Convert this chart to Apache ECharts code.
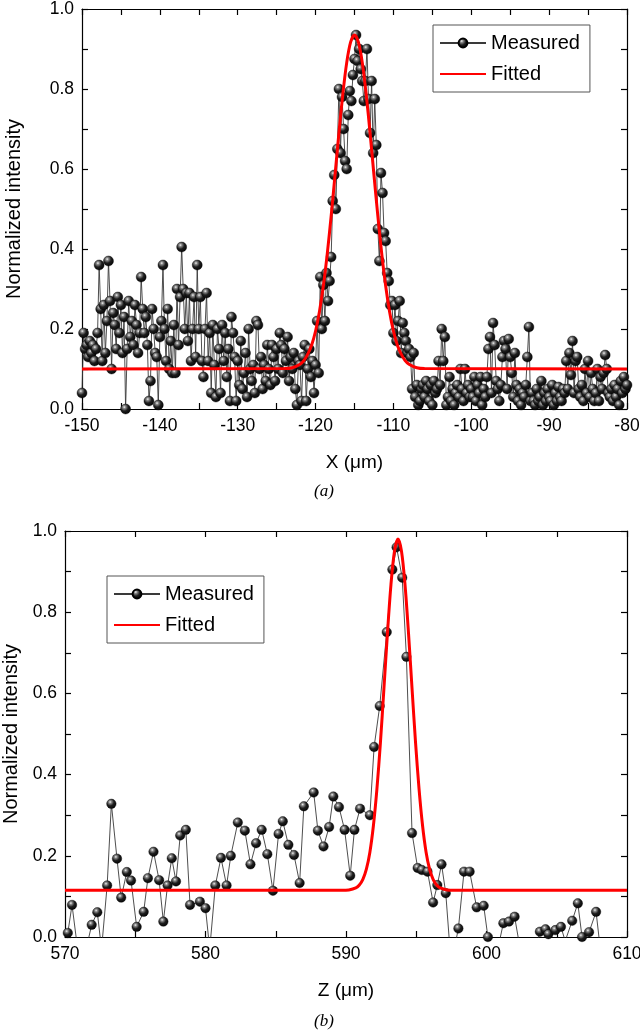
<!DOCTYPE html>
<html>
<head>
<meta charset="utf-8">
<script src="https://cdn.jsdelivr.net/npm/echarts@6/dist/echarts.min.js"></script>
<style>
html,body{margin:0;padding:0;background:#fff;}
#chart{width:640px;height:1036px;}
</style>
</head>
<body>
<div id="chart"></div>
<script>
// ---------- Panel (a) data ----------
const startA = -150;   // first sample position (µm)
const stepA = 0.2;     // sampling step (µm)
const measuredA = [
  0.04, 0.19, 0.15, 0.16, 0.13, 0.17, 0.14, 0.16, 0.12, 0.15,
  0.19, 0.36, 0.25, 0.12, 0.26, 0.14, 0.22, 0.37, 0.27, 0.10,
  0.24, 0.21, 0.15, 0.28, 0.19, 0.26, 0.14, 0.23, 0.00, 0.15,
  0.27, 0.18, 0.22, 0.16, 0.26, 0.21, 0.14, 0.19, 0.33, 0.25,
  0.19, 0.23, 0.16, 0.02, 0.07, 0.25, 0.20, 0.14, 0.13, 0.01,
  0.18, 0.22, 0.36, 0.20, 0.12, 0.25, 0.10, 0.17, 0.09, 0.21,
  0.09, 0.30, 0.16, 0.28, 0.405, 0.30, 0.20, 0.29, 0.17, 0.29,
  0.12, 0.20, 0.28, 0.13, 0.36, 0.20, 0.28, 0.12, 0.08, 0.20,
  0.29, 0.12, 0.19, 0.04, 0.21, 0.11, 0.03, 0.20, 0.15, 0.04,
  0.21, 0.12, 0.19, 0.08, 0.15, 0.02, 0.23, 0.19, 0.13, 0.02,
  0.12, 0.06, 0.17, 0.05, 0.09, 0.14, 0.03, 0.20, 0.10, 0.07,
  0.11, 0.04, 0.22, 0.21, 0.10, 0.13, 0.05, 0.11, 0.07, 0.16,
  0.10, 0.06, 0.16, 0.13, 0.07, 0.15, 0.10, 0.19, 0.16, 0.09,
  0.15, 0.12, 0.18, 0.07, 0.13, 0.10, 0.14, 0.05, 0.01, 0.12,
  0.11, 0.02, 0.13, 0.16, 0.02, 0.10, 0.15, 0.08, 0.12, 0.04,
  0.11, 0.22, 0.09, 0.33, 0.20, 0.31, 0.22, 0.34, 0.27, 0.32,
  0.38, 0.52, 0.585, 0.50, 0.65, 0.80, 0.64, 0.78, 0.70, 0.62,
  0.60, 0.735, 0.795, 0.77, 0.835, 0.875, 0.935, 0.87, 0.90, 0.85,
  0.82, 0.77, 0.82, 0.90, 0.775, 0.69, 0.82, 0.64, 0.775, 0.66,
  0.45, 0.37, 0.59, 0.54, 0.44, 0.42, 0.34, 0.32, 0.26, 0.27,
  0.19, 0.26, 0.17, 0.22, 0.27, 0.14, 0.215, 0.19, 0.17, 0.14,
  0.15, 0.13, 0.05, 0.14, 0.03, 0.06, 0.01, 0.02, 0.05, 0.06,
  0.03, 0.07, 0.05, 0.02, 0.06, 0.01, 0.07, 0.04, 0.05, 0.12,
  0.06, 0.20, 0.12, 0.18, 0.01, 0.03, 0.08, 0.02, 0.05, 0.01,
  0.04, 0.06, 0.03, 0.10, 0.05, 0.02, 0.10, 0.04, 0.06, 0.03,
  0.05, 0.03, 0.08, 0.02, 0.06, 0.04, 0.08, 0.01, 0.05, 0.03,
  0.08, 0.15, 0.18, 0.04, 0.215, 0.16, 0.07, 0.05, 0.02, 0.06,
  0.13, 0.17, 0.15, 0.05, 0.175, 0.13, 0.09, 0.03, 0.14, 0.06,
  0.02, 0.05, 0.01, 0.04, 0.03, 0.06, 0.13, 0.205, 0.02, 0.04,
  0.02, 0.01, 0.05, 0.02, 0.03, 0.07, 0.01, 0.04, 0.02, 0.05,
  0.03, 0.02, 0.06, 0.01, 0.04, 0.02, 0.055, 0.03, 0.02, 0.05,
  0.04, 0.12, 0.05, 0.14, 0.085, 0.17, 0.04, 0.12, 0.13, 0.05,
  0.03, 0.06, 0.02, 0.10, 0.04, 0.12, 0.03, 0.09, 0.05, 0.02,
  0.04, 0.10, 0.02, 0.08, 0.05, 0.09, 0.135, 0.10, 0.04, 0.03,
  0.05, 0.02, 0.06, 0.03, 0.05, 0.01, 0.07, 0.04, 0.08, 0.05,
  0.06
];
const fitAX = [-150, -124, -123, -122, -121.5, -121, -120.5, -120, -119.5, -119, -118.5, -118, -117.5, -117, -116.5, -116, -115.5, -115,
  -114.5, -114, -113.5, -113, -112.5, -112, -111.5, -111, -110.5, -110, -109.5, -109, -108.5, -108, -107, -106, -80];
const fitAY = [0.1, 0.101, 0.103, 0.112, 0.121, 0.137, 0.160, 0.195, 0.244, 0.308, 0.388, 0.482, 0.585, 0.690, 0.787, 0.866, 0.917, 0.935,
  0.917, 0.866, 0.787, 0.690, 0.585, 0.482, 0.388, 0.308, 0.244, 0.195, 0.160, 0.137, 0.121, 0.112, 0.103, 0.101, 0.1];

// ---------- Panel (b) data ----------
const measuredBX = [570.2, 570.5, 570.9, 571.2, 571.5, 571.9, 572.3, 572.6, 573.0, 573.3, 573.7, 574.0, 574.4, 574.7, 575.1, 575.6, 575.9,
  576.3, 576.7, 577.0, 577.3, 577.6, 577.9, 578.2, 578.6, 578.9, 579.6, 580.0, 580.3, 580.7, 581.1, 581.5, 581.8, 582.3, 582.8,
  583.2, 583.6, 584.0, 584.4, 584.8, 585.2, 585.5, 585.9, 586.3, 586.7, 587.0, 587.7, 588.0, 588.4, 588.8, 589.1, 589.5, 589.9,
  590.3, 590.6, 591.0, 591.7, 592.0, 592.4, 592.9, 593.3, 593.6, 594.0, 594.3, 594.7, 595.1, 595.4, 595.8, 596.2, 596.5, 596.8,
  597.1, 597.4, 597.7, 598.0, 598.4, 598.8, 599.3, 599.8, 600.1, 600.5, 600.8, 601.2, 601.6, 602.0, 602.4, 602.8, 603.2, 603.5,
  603.8, 604.2, 604.4, 604.9, 605.3, 605.6, 606.1, 606.5, 606.8, 607.3, 607.8, 608.1];
const measuredBY = [0.01, 0.079, -0.03, -0.03, -0.03, 0.03, 0.061, -0.03, 0.127, 0.328, 0.193, 0.097, 0.16, 0.139, 0.025, 0.062, 0.145,
  0.21, 0.14, 0.038, 0.127, 0.194, 0.137, 0.25, 0.264, 0.079, 0.087, 0.071, -0.03, 0.127, 0.195, 0.127, 0.2, 0.282, 0.262,
  0.179, 0.231, 0.264, 0.204, 0.114, 0.254, 0.285, 0.227, 0.202, 0.133, 0.322, 0.356, 0.262, 0.223, 0.271, 0.346, 0.32, 0.264,
  0.151, 0.264, 0.316, 0.3, 0.468, 0.569, 0.751, 0.905, 0.96, 0.885, 0.69, 0.256, 0.17, 0.165, 0.161, 0.085, 0.128, 0.179,
  0.108, -0.03, -0.03, 0.021, 0.161, 0.161, 0.073, 0.077, 0.0, -0.03, -0.03, 0.034, 0.038, 0.05, -0.03, -0.03, -0.03, -0.03,
  0.013, 0.019, 0.007, 0.017, 0.025, -0.01, 0.04, 0.083, 0.0, 0.012, 0.062, -0.03];
const fitBX = [570, 589.7, 590.2, 590.7, 590.95, 591.2, 591.45, 591.7, 591.95, 592.2, 592.45, 592.7, 592.95, 593.2, 593.45, 593.7,
  593.95, 594.2, 594.45, 594.7, 594.95, 595.2, 595.45, 595.7, 595.95, 596.2, 596.45, 596.7, 597.2, 597.7, 610];
const fitBY = [0.115, 0.115, 0.116, 0.121, 0.128, 0.142, 0.167, 0.209, 0.274, 0.364, 0.479, 0.612, 0.748, 0.868, 0.950, 0.980,
  0.950, 0.868, 0.748, 0.612, 0.479, 0.364, 0.274, 0.209, 0.167, 0.142, 0.128, 0.121, 0.116, 0.115, 0.115];

const yTicks = { min: 0, max: 1.0, interval: 0.2 };
const xRangeA = { min: -150, max: -80, interval: 10 };
const xRangeB = { min: 570, max: 610, interval: 10 };

// ---------- build ----------
const pairsA = measuredA.map((v, i) => [+(startA + i * stepA).toFixed(2), v]);
const zip = (xs, ys) => xs.map((x, i) => [x, ys[i]]);

const FONT = 'Liberation Sans, Arial, sans-serif';
const sphere = new echarts.graphic.RadialGradient(0.38, 0.32, 0.75, [
  { offset: 0, color: '#f4f4f4' },
  { offset: 0.18, color: '#8a8a8a' },
  { offset: 0.5, color: '#1e1e1e' },
  { offset: 1, color: '#000000' }
]);

function xAx(grid, range, pos, name, show) {
  return {
    type: 'value', gridIndex: grid, position: pos, min: range.min, max: range.max, interval: range.interval,
    name: show ? name : '', nameLocation: 'middle', nameGap: 44,
    nameTextStyle: { fontFamily: FONT, fontSize: 19, color: '#000' },
    axisLine: { show: true, onZero: false, lineStyle: { color: '#000', width: 1.2 } },
    axisTick: { show: true, inside: true, length: 6, lineStyle: { color: '#000', width: 1.2 } },
    minorTick: { show: true, splitNumber: 2, length: 6, lineStyle: { color: '#000', width: 1.2 } },
    axisLabel: { show: show, color: '#000', fontFamily: FONT, fontSize: 17.5, margin: 8 },
    splitLine: { show: false }, minorSplitLine: { show: false }
  };
}
function yAx(grid, pos, gap, show) {
  return {
    type: 'value', gridIndex: grid, position: pos, min: yTicks.min, max: yTicks.max, interval: yTicks.interval,
    name: show ? 'Normalized intensity' : '', nameLocation: 'middle', nameGap: gap, nameRotate: 90,
    nameTextStyle: { fontFamily: FONT, fontSize: 20, color: '#000' },
    axisLine: { show: true, onZero: false, lineStyle: { color: '#000', width: 1.2 } },
    axisTick: { show: true, inside: true, length: 6, lineStyle: { color: '#000', width: 1.2 } },
    minorTick: { show: true, splitNumber: 2, length: 6, lineStyle: { color: '#000', width: 1.2 } },
    axisLabel: { show: show, color: '#000', fontFamily: FONT, fontSize: 17.5, margin: 8,
      formatter: v => v.toFixed(1) },
    splitLine: { show: false }, minorSplitLine: { show: false }
  };
}
function measuredSeries(data, xi, yi, size) {
  return {
    name: 'Measured', type: 'line', xAxisIndex: xi, yAxisIndex: yi, data: data,
    symbol: 'circle', symbolSize: size, showSymbol: true, clip: true,
    lineStyle: { color: '#3a3a3a', width: 0.9 },
    itemStyle: { color: sphere, borderColor: '#000', borderWidth: 0.4 },
    z: 2
  };
}
function fitSeries(data, xi, yi) {
  return {
    name: 'Fitted', type: 'line', xAxisIndex: xi, yAxisIndex: yi, data: data,
    symbol: 'none', showSymbol: false, smooth: 0.3, clip: true,
    lineStyle: { color: '#ff0000', width: 3 }, itemStyle: { color: '#ff0000' },
    z: 3
  };
}
function legendAt(left, top) {
  return {
    left: left, top: top, orient: 'vertical',
    data: ['Measured', { name: 'Fitted', itemStyle: { opacity: 0 } }],
    borderColor: '#555', borderWidth: 1, borderRadius: 0, padding: [8, 10, 8, 6],
    itemWidth: 46, itemHeight: 11, itemGap: 11,
    textStyle: { fontFamily: FONT, fontSize: 20, color: '#000' }, selectedMode: false
  };
}

const chart = echarts.init(document.getElementById('chart'), null, { renderer: 'canvas' });
chart.setOption({
  animation: false,
  backgroundColor: '#fff',
  grid: [
    { left: 82, right: 13, top: 9, height: 400, containLabel: false, outerBoundsMode: 'none' },
    { left: 65, right: 13, top: 531, height: 406, containLabel: false, outerBoundsMode: 'none' }
  ],
  xAxis: [
    xAx(0, xRangeA, 'bottom', 'X (μm)', true),
    xAx(0, xRangeA, 'top', '', false),
    xAx(1, xRangeB, 'bottom', 'Z (μm)', true),
    xAx(1, xRangeB, 'top', '', false)
  ],
  yAxis: [
    yAx(0, 'left', 58, true),
    yAx(0, 'right', 0, false),
    yAx(1, 'left', 42, true),
    yAx(1, 'right', 0, false)
  ],
  legend: [legendAt(433, 25), legendAt(107, 576)],
  series: [
    measuredSeries(pairsA, 0, 0, 10),
    fitSeries(zip(fitAX, fitAY), 0, 0),
    measuredSeries(zip(measuredBX, measuredBY), 2, 2, 9.5),
    fitSeries(zip(fitBX, fitBY), 2, 2)
  ],
  graphic: [
    { type: 'text', left: 314, top: 483, style: { text: '(a)', font: 'italic 17px "Liberation Serif", serif', fill: '#000' } },
    { type: 'text', left: 314, top: 1013, style: { text: '(b)', font: 'italic 17px "Liberation Serif", serif', fill: '#000' } }
  ]
});
</script>
</body>
</html>
